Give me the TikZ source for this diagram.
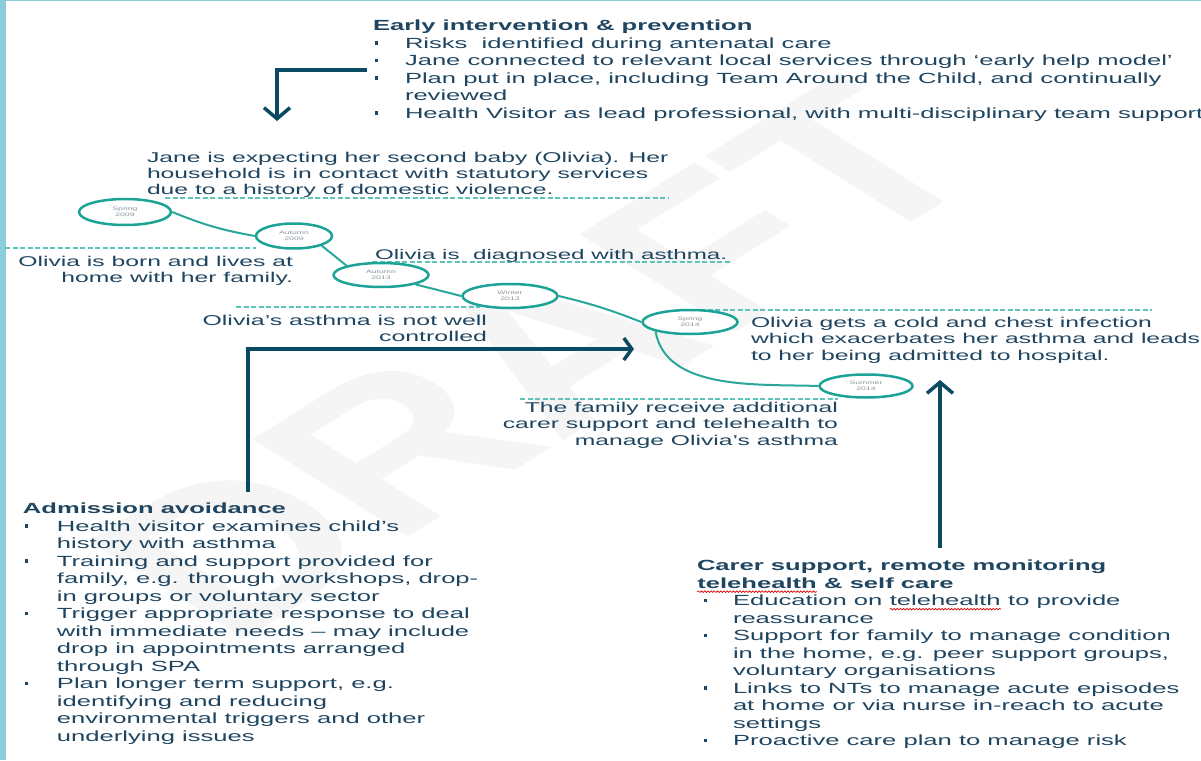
\documentclass[tikz,border=0pt]{standalone}
\usepackage{fontspec}
\setmainfont{Liberation Sans}[FakeStretch=1.74]
\newfontfamily\markfont{Liberation Sans}
\usetikzlibrary{shapes.geometric,arrows.meta,decorations.pathmorphing}

\definecolor{ink}{HTML}{1F4560}
\definecolor{arrowc}{HTML}{0B4A63}
\definecolor{ringc}{HTML}{1BA396}
\definecolor{pathc}{HTML}{2AA79B}
\definecolor{dashc}{HTML}{5CC4B9}
\definecolor{framec}{HTML}{8DCCDB}
\definecolor{labelc}{HTML}{8A979C}
\definecolor{wmark}{HTML}{F5F5F5}

% square bullet: left offset, total indent
\newcommand\bitem[2]{\makebox[#2][l]{\hspace*{#1}\rule[3.6pt]{3.4pt}{3.4pt}}}
\newcommand\bcont[1]{\hspace*{#1}}
% wavy spell-check underline
\newcommand\squig[1]{\tikz[baseline=(sqw.base)]{\node[inner sep=0pt,outer sep=0pt] (sqw) {#1};
  \draw[red!85!black,line width=0.7pt,decorate,decoration={snake,amplitude=0.8pt,segment length=3.2pt}]
  ([yshift=-3.5pt]sqw.base west) -- ([yshift=-3.5pt]sqw.base east);}}

\tikzset{
  txt/.style={inner sep=0pt, outer sep=0pt, text=ink, align=left,
    font=\fontsize{14.7}{17.5}\selectfont},
  evt/.style={txt, font=\fontsize{14.2}{16.5}\selectfont},
  stage/.style={ellipse, draw=ringc, line width=2.5pt, fill=white, inner sep=0pt,
    text=labelc, align=center, font=\fontsize{5}{6}\selectfont},
  dashln/.style={draw=dashc, line width=2.2pt, dash pattern=on 5pt off 2.5pt},
  pathln/.style={draw=pathc, line width=2pt},
  arrowln/.style={draw=arrowc, line width=3.5pt},
}

\begin{document}
\begin{tikzpicture}[x=1pt,y=-1pt]
\useasboundingbox (0,0) rectangle (1201,760);
\clip (0,0) rectangle (1201,760);
\fill[white] (0,0) rectangle (1201,760);

% watermark
\begin{scope}[xscale=1.6]
  \node[font=\markfont\bfseries\fontsize{200}{200}\selectfont, text=wmark,
        rotate=45, transform shape, inner sep=0pt] (wm) at (335,360) {DRAFT};
\end{scope}

% frame
\fill[framec] (0,0) rectangle (6,760);
\fill[framec] (0,0) rectangle (1201,1.5);

% dashed guide lines
\draw[dashln] (165,198) -- (668,198);
\draw[dashln] (5,248) -- (256,248);
\draw[dashln] (372,262) -- (730,262);
\draw[dashln] (236,307) -- (480,307);
\draw[dashln] (700,310) -- (1152,310);
\draw[dashln] (520,399) -- (838,399);

% timeline stages
\node[stage, minimum width=92pt, minimum height=26pt] (e1) at (125,212) {Spring\\2009};
\node[stage, minimum width=76pt, minimum height=25pt] (e2) at (294,236) {Autumn\\2009};
\node[stage, minimum width=95pt, minimum height=24pt] (e3) at (381,275) {Autumn\\2013};
\node[stage, minimum width=95pt, minimum height=24pt] (e4) at (510,296) {Winter\\2013};
\node[stage, minimum width=95pt, minimum height=24pt] (e5) at (690,322) {Spring\\2014};
\node[stage, minimum width=93pt, minimum height=23pt] (e6) at (866,386) {Summer\\2014};

\draw[pathln] (e1.east) to[bend right=6] (e2.west);
\draw[pathln] (e2.south east) -- (e3.north west);
\draw[pathln] (e3.south east) -- (e4.west);
\draw[pathln] (e4.east) to[bend left=4] (e5.west);
\draw[pathln] (e5.south west) to[out=-80,in=178,looseness=0.9] (e6.west);

% event texts
\node[evt, font=\fontsize{14.2}{16}\selectfont, anchor=north west] (jane) at (147,152)
  {Jane is expecting her second baby (Olivia). Her\\household is in contact with statutory services\\due to a history of domestic violence.};
\node[evt, align=right, anchor=north east] (born) at (293,256)
  {Olivia is born and lives at\\home with her family.};
\node[evt, font=\fontsize{13.9}{16}\selectfont, anchor=north west] (diag) at (375,249) {Olivia is\ \ diagnosed with asthma.};
\node[evt, align=right, font=\fontsize{14.3}{16}\selectfont, anchor=north east] (ctrl) at (487,315)
  {Olivia’s asthma is not well\\controlled};
\node[evt, anchor=north west] (cold) at (751,317)
  {Olivia gets a cold and chest infection\\which exacerbates her asthma and leads\\to her being admitted to hospital.};
\node[evt, align=right, anchor=north east] (fam) at (838,402)
  {The family receive additional\\carer support and telehealth to\\manage Olivia’s asthma};

% intervention blocks
\node[txt, anchor=north west] (early) at (373,20)
  {\textbf{Early intervention \& prevention}\\
   \bitem{2pt}{32pt}Risks\ \ identified during antenatal care\\
   \bitem{2pt}{32pt}Jane connected to relevant local services through ‘early help model’\\
   \bitem{2pt}{32pt}Plan put in place, including Team Around the Child, and continually\\
   \bcont{32pt}reviewed\\
   \bitem{2pt}{32pt}Health Visitor as lead professional, with multi-disciplinary team support};

\node[txt, anchor=north west] (adm) at (23,503)
  {\textbf{Admission avoidance}\\
   \bitem{2pt}{34pt}Health visitor examines child’s\\
   \bcont{34pt}history with asthma\\
   \bitem{2pt}{34pt}Training and support provided for\\
   \bcont{34pt}family, e.g. through workshops, drop-\\
   \bcont{34pt}in groups or voluntary sector\\
   \bitem{2pt}{34pt}Trigger appropriate response to deal\\
   \bcont{34pt}with immediate needs – may include\\
   \bcont{34pt}drop in appointments arranged\\
   \bcont{34pt}through SPA\\
   \bitem{2pt}{34pt}Plan longer term support, e.g.\\
   \bcont{34pt}identifying and reducing\\
   \bcont{34pt}environmental triggers and other\\
   \bcont{34pt}underlying issues};

\node[txt, anchor=north west] (carer) at (697,560)
  {\textbf{Carer support, remote monitoring}\\
   \textbf{\squig{telehealth} \& self care}\\
   \bitem{7pt}{36pt}Education on \squig{telehealth} to provide\\
   \bcont{36pt}reassurance\\
   \bitem{7pt}{36pt}Support for family to manage condition\\
   \bcont{36pt}in the home, e.g. peer support groups,\\
   \bcont{36pt}voluntary organisations\\
   \bitem{7pt}{36pt}Links to NTs to manage acute episodes\\
   \bcont{36pt}at home or via nurse in-reach to acute\\
   \bcont{36pt}settings\\
   \bitem{7pt}{36pt}Proactive care plan to manage risk};

% arrows from the blocks to the timeline
\coordinate (ea0) at (367,70);
\coordinate (ea1) at (277,121);
\draw[arrowln, -{Straight Barb[length=11pt,width=26pt]}] (ea0) -| (ea1);

\coordinate (aa0) at (248,492);
\coordinate (aa1) at (634,349);
\draw[arrowln, -{Straight Barb[length=8pt,width=22pt]}] (aa0) |- (aa1);

\coordinate (ca0) at (940,548);
\coordinate (ca1) at (940,380);
\draw[arrowln, -{Straight Barb[length=11pt,width=26pt]}] (ca0) -- (ca1);
\end{tikzpicture}
\end{document}
